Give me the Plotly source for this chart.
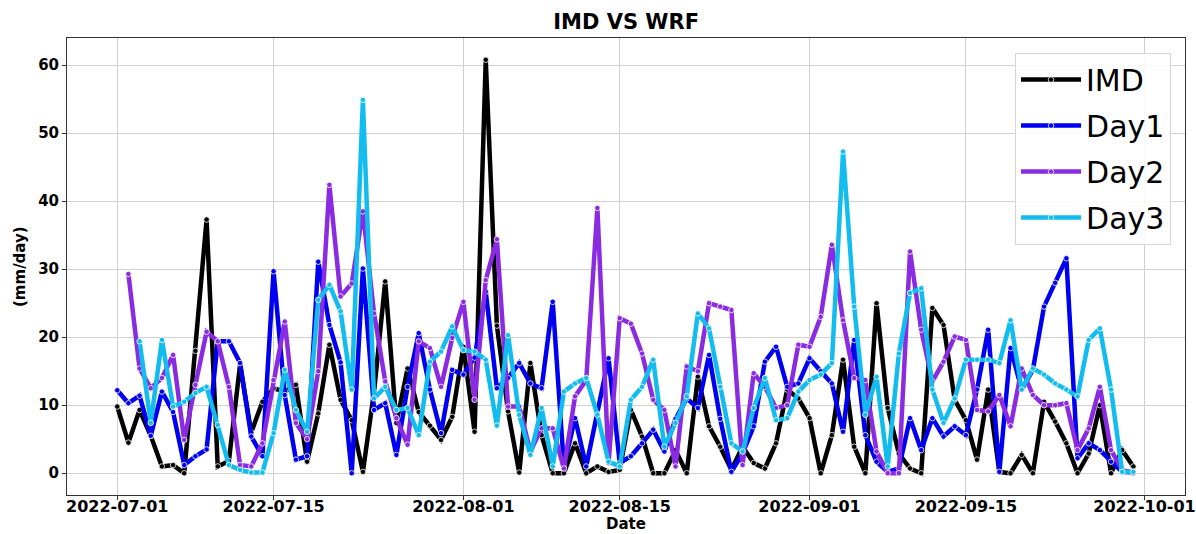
import pandas as pd
import plotly.graph_objects as go

dates = pd.date_range("2022-07-01", periods=92, freq="D")
N = None

imd = [9.8, 4.5, 9.3, 5.5, 1.0, 1.2, 0.0, 18.0, 37.3, 1.0,
       1.8, 16.0, 6.0, 10.5, 12.5, 12.0, 13.0, 1.7, 8.8, 18.9,
       10.8, 7.8, 0.2, 12.0, 28.2, 7.4, 15.4, 9.0, 7.0, 4.9,
       8.3, 18.6, 6.1, 60.8, 21.7, 9.1, 0.1, 16.2, 5.6, 0.0,
       0.0, 4.4, 0.0, 1.0, 0.2, 0.5, 9.3, 5.4, 0.0, 0.0,
       3.4, 0.0, 14.2, 6.9, 3.9, 0.5, 3.9, 1.5, 0.7, 4.4,
       12.3, 11.0, 8.1, 0.0, 5.6, 16.7, 3.9, 0.0, 25.0, 9.6,
       2.9, 0.7, 0.0, 24.3, 21.8, 10.8, 7.8, 2.0, 12.3, 0.2,
       0.0, 2.7, 0.0, 10.5, 7.6, 4.4, 0.0, 2.9, 10.0, 0.0,
       3.4, 1.0]

day1 = [12.2, 10.3, 11.4, 5.5, 12.0, 9.0, 1.2, 2.5, 3.5, 19.4,
        19.4, 16.2, 5.4, 2.5, 29.7, 11.5, 2.0, 2.5, 31.1, 21.8,
        16.3, 0.0, 30.1, 9.3, 10.3, 2.7, 12.7, 20.6, 12.3, 5.9,
        15.2, 14.5, 17.0, 26.7, 12.5, 14.0, 16.2, 13.2, 12.5, 25.2,
        1.0, 8.1, 1.0, 8.8, 16.9, 1.5, 2.5, 4.4, 6.4, 3.2,
        8.0, 11.0, 9.6, 17.4, 8.0, 0.2, 2.9, 6.9, 16.4, 18.6,
        12.7, 13.2, 16.9, 15.0, 13.2, 6.1, 19.6, 5.6, 1.7, 0.2,
        0.7, 8.1, 3.4, 8.1, 5.4, 6.9, 5.6, 12.3, 21.1, 0.2,
        18.4, 12.3, 15.2, 24.5, 28.0, 31.6, 2.2, 4.4, 3.4, 1.7,
        0.2, 0.2]

day2 = [N, 29.3, 15.4, 12.5, 14.0, 17.4, 4.9, 13.0, 20.8, 19.4,
        12.7, 1.2, 1.0, 4.4, 13.7, 22.3, 7.4, 5.0, 15.0, 42.4,
        26.0, 27.9, 38.5, 23.5, 13.5, 8.1, 4.2, 19.4, 18.4, 12.7,
        19.9, 25.2, 10.8, 28.4, 34.4, 9.8, 9.8, 3.2, 6.6, 6.6,
        0.7, 11.3, 13.7, 39.0, 1.5, 22.8, 22.0, 17.6, 10.8, 9.3,
        1.0, 15.7, 15.0, 25.0, 24.5, 24.0, 1.2, 14.7, 12.7, 9.6,
        10.0, 18.9, 18.6, 23.0, 33.6, 22.5, 14.0, 13.7, 3.2, 0.0,
        0.0, 32.6, 21.1, 13.5, 16.4, 20.1, 19.6, 9.3, 9.1, 11.5,
        6.9, 15.4, 11.5, 10.0, 10.0, 10.3, 3.4, 6.6, 12.7, 3.4,
        0.5, 0.0]

day3 = [N, N, 19.4, 7.4, 19.6, 9.8, 10.5, 11.8, 12.7, 7.1,
        1.2, 0.5, 0.1, 0.1, 5.9, 15.2, 9.3, 6.1, 25.5, 27.7,
        23.8, 12.3, 54.9, 11.0, 12.7, 9.3, 9.6, 5.6, 16.4, 17.9,
        21.6, 18.1, 17.9, 16.7, 7.0, 20.3, 8.6, 2.7, 9.6, 1.0,
        12.0, 13.2, 14.0, 8.6, 1.7, 1.0, 10.8, 12.7, 16.7, 3.9,
        7.4, 11.3, 23.5, 21.3, 12.7, 4.4, 3.2, 9.6, 14.0, 7.8,
        8.1, 12.0, 13.7, 14.5, 16.2, 47.3, 24.5, 8.6, 14.2, 1.0,
        17.6, 26.5, 27.2, 12.3, 7.4, 11.0, 16.7, 16.7, 16.7, 16.2,
        22.5, 12.3, 15.4, 14.5, 13.2, 12.3, 11.3, 19.6, 21.3, 12.3,
        0.2, 0.2]

series_names = ["IMD", "Day1", "Day2", "Day3"]
series_values = [imd, day1, day2, day3]
series_colors = ["#000000", "#0000F0", "#8A2BE2", "#12BCEE"]

x_tick_labels = ["2022-07-01", "2022-07-15", "2022-08-01", "2022-08-15",
                 "2022-09-01", "2022-09-15", "2022-10-01"]
y_ticks = [0, 10, 20, 30, 40, 50, 60]

fig = go.Figure()
for name, vals, col in zip(series_names, series_values, series_colors):
    fig.add_trace(go.Scatter(
        x=dates, y=vals, name=name, legendgroup=name, mode="lines+markers",
        line=dict(color=col, width=4.5),
        marker=dict(color=col, size=5.5, line=dict(color="white", width=0.8)),
    ))

font_family = "DejaVu Sans"
fig.update_layout(
    width=1196, height=534,
    margin=dict(l=67, r=11, t=38, b=39, autoexpand=False),
    paper_bgcolor="white", plot_bgcolor="white",
    font=dict(family=font_family, color="black"),
    title=dict(text="<b>IMD VS WRF</b>", x=0.5235, xanchor="center",
               y=0.96, yanchor="middle", font=dict(size=21, family=font_family)),
    legend=dict(x=0.9875, xanchor="right", y=0.968, yanchor="top",
                font=dict(size=30, family=font_family),
                bgcolor="rgba(255,255,255,0.85)", bordercolor="#d6d6d6",
                borderwidth=1, tracegroupgap=4, itemwidth=60),
    showlegend=True,
    annotations=[
        dict(text="<b>Date</b>", xref="paper", yref="paper", x=0.5, y=-0.064,
             xanchor="center", yanchor="middle", showarrow=False,
             font=dict(size=15, family=font_family)),
        dict(text="<b>(mm/day)</b>", xref="paper", yref="paper", x=-0.0425, y=0.5,
             xanchor="center", yanchor="middle", showarrow=False, textangle=-90,
             font=dict(size=15, family=font_family)),
    ],
)
fig.update_xaxes(
    type="date", automargin=False,
    range=["2022-06-26 12:00", "2022-10-04 15:00"],
    tickvals=x_tick_labels, ticktext=["<b>%s</b>" % t for t in x_tick_labels],
    tickfont=dict(size=16, family=font_family),
    ticklabelstandoff=-7,
    showgrid=True, gridcolor="#d0d0d0", gridwidth=1,
    showline=True, linecolor="#333333", linewidth=1, mirror=True,
    ticks="outside", ticklen=4, tickcolor="#333333",
    zeroline=False,
)
fig.update_yaxes(
    automargin=False,
    range=[-3.2, 64],
    tickvals=y_ticks, ticktext=["<b>%d</b>" % v for v in y_ticks],
    tickfont=dict(size=15, family=font_family),
    showgrid=True, gridcolor="#d0d0d0", gridwidth=1,
    showline=True, linecolor="#333333", linewidth=1, mirror=True,
    ticks="outside", ticklen=4, tickcolor="#333333",
    zeroline=False,
)

fig.write_html("out.html")
